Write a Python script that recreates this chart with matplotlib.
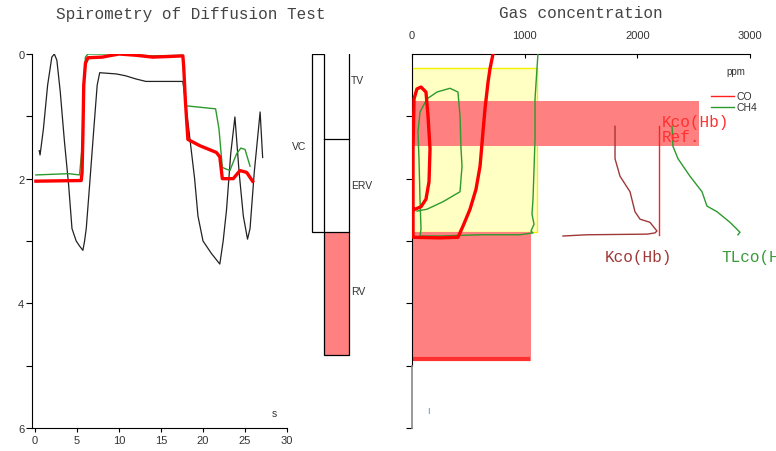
import matplotlib
matplotlib.use("Agg")
import matplotlib.pyplot as plt

# ---- spirometry traces: time (s) / volume (L, 0 at top) ----
red_t = [0.1, 5.5, 5.6, 5.7, 5.8, 6.0, 6.3, 8, 10, 12, 14, 16, 17.6, 17.7, 17.9, 18.2,
         19.6, 21.6, 22.0, 22.3, 23.6, 24.4, 25.2, 25.9]
red_v = [2.04, 2.03, 1.9, 1.3, 0.5, 0.15, 0.06, 0.05, 0.0, 0.02, 0.05, 0.04, 0.03, 0.2, 0.75, 1.37,
         1.47, 1.58, 1.65, 2.0, 2.0, 1.87, 1.9, 2.04]

green_t = [0.1, 4.0, 5.3, 5.6, 5.8, 6.0, 6.3, 10, 14, 17.6, 17.7, 17.9, 21.5, 21.9, 22.3,
           23.2, 24.0, 24.5, 25.0, 25.6]
green_v = [1.94, 1.92, 1.94, 1.5, 0.5, 0.05, 0.0, 0.0, 0.03, 0.02, 0.3, 0.83, 0.88, 1.2, 1.82,
           1.87, 1.6, 1.51, 1.53, 1.8]

black_t = [0.5, 0.6, 1.0, 1.5, 2.0, 2.3, 2.6, 3.0, 3.5, 4.0, 4.4, 4.9, 5.3, 5.7, 5.9, 6.1,
           6.5, 7.0, 7.4, 7.7, 9.7, 10.8, 12, 13.2, 17.6, 18.3, 19.0, 19.4, 20, 21, 22,
           22.4, 22.8, 23.3, 23.8, 24.3, 24.8, 25.3, 25.6, 26.1, 26.8, 27.1]
black_v = [1.55, 1.62, 1.2, 0.5, 0.05, 0.0, 0.1, 0.6, 1.4, 2.1, 2.8, 3.0, 3.08, 3.15, 3.0, 2.8,
           2.1, 1.2, 0.5, 0.3, 0.32, 0.35, 0.4, 0.44, 0.44, 1.2, 2.0, 2.6, 3.0, 3.2, 3.37,
           3.0, 2.5, 1.6, 1.01, 1.9, 2.6, 2.97, 2.8, 1.9, 0.93, 1.66]

# ---- lung volumes (L) ----
TV = 1.36
ERV = 1.50
RV = 1.97

# ---- gas concentration (ppm vs volume L) ----
ch4_ppm = [1118, 1109, 1092, 1092, 1083, 1074, 1065, 1083, 1056, 1074, 958, 604, 249, 71,
           80, 71, 62, 53, 71, 133, 222, 337, 408, 426, 435, 444, 426, 275, 133, 44]
ch4_vol = [0.0, 0.24, 0.72, 1.36, 1.85, 2.33, 2.57, 2.73, 2.84, 2.87, 2.90, 2.90, 2.92, 2.92,
           2.81, 2.33, 1.68, 1.25, 0.93, 0.72, 0.61, 0.55, 0.61, 0.99, 1.52, 1.80, 2.21, 2.37, 2.49, 2.52]

co_ppm = [719, 692, 675, 648, 630, 604, 568, 515, 453, 408, 249, 9, 9, 9, 18, 44, 80, 124,
          142, 160, 151, 124, 80, 27]
co_vol = [0.0, 0.24, 0.45, 0.88, 1.25, 1.80, 2.17, 2.49, 2.76, 2.94, 2.95, 2.94, 2.33, 1.52,
          0.72, 0.56, 0.53, 0.61, 0.99, 1.52, 2.05, 2.33, 2.45, 2.49]

kco_x = [1802, 1802, 1846, 1935, 1979, 2024, 2112, 2174, 2157, 2086, 1553, 1340]
kco_y = [1.16, 1.68, 1.96, 2.21, 2.53, 2.65, 2.70, 2.84, 2.87, 2.89, 2.90, 2.92]
kco_ref_x = 2192
kco_ref_y = [1.16, 2.90]

tlco_x = [2308, 2316, 2361, 2467, 2574, 2618, 2707, 2822, 2884, 2911, 2893]
tlco_y = [1.16, 1.48, 1.68, 1.96, 2.21, 2.44, 2.53, 2.70, 2.81, 2.86, 2.90]

# zones: (top L, bottom L, right ppm)
yellow_zone = (0.22, 2.86, 1110)
red_band = (0.75, 1.47, 2547)
red_low = (2.86, 4.93, 1060)
low_line_vol = 4.89

SANS = "Liberation Sans"
MONO = "Liberation Mono"
SALMON = "#ff8080"
GREEN = "#2c9a2c"

W, H = 776, 452
fig = plt.figure(figsize=(W / 100, H / 100), dpi=100)


def box(x0, y0, x1, y1):
    return [x0 / W, 1 - y1 / H, (x1 - x0) / W, (y1 - y0) / H]


# ---------------- left: spirometry ----------------
ax1 = fig.add_axes(box(32, 55, 287, 429))
ax1.plot(black_t, black_v, color="#222222", lw=0.9, zorder=2)
ax1.plot(green_t, green_v, color=GREEN, lw=1.0, zorder=3)
ax1.plot(red_t, red_v, color="#ff0000", lw=2.4, zorder=4)
ax1.set_xlim(-0.36, 30)
ax1.set_ylim(6, 0)
ax1.set_xticks(range(0, 31, 5))
ax1.set_yticks([0, 2, 4, 6])
ax1.set_yticks([1, 3, 5], minor=True)
for s in ["top", "right"]:
    ax1.spines[s].set_visible(False)
ax1.tick_params(axis="y", which="both", length=4, width=0.8, pad=1.5, labelsize=8,
                labelcolor="#333333")
ax1.tick_params(axis="x", length=3, width=0.8, pad=2, labelsize=8, labelcolor="#333333")
for lab in ax1.get_xticklabels() + ax1.get_yticklabels():
    lab.set_family(SANS)
ax1.text(28.2, 5.8, "s", fontsize=7.5, family=SANS, color="#333333")
fig.text(191 / W, 1 - 14 / H, "Spirometry of Diffusion Test", ha="center", va="center",
         family=MONO, fontsize=11.5, color="#444444")

# ---------------- middle: lung volumes ----------------
axm = fig.add_axes(box(290, 55, 400, 429))
axm.set_xlim(0, 110)
axm.set_ylim(6, 0)
axm.axis("off")
axm.bar(28, TV + ERV, width=12, bottom=0, color="white", edgecolor="black", lw=0.9)
axm.bar(46.5, RV, width=25, bottom=TV + ERV, color=SALMON, edgecolor="black", lw=0.9)
axm.plot([34, 59], [TV, TV], color="black", lw=0.9)
axm.plot([59, 59], [0, TV + ERV], color="black", lw=0.9)
axm.text(2, (TV + ERV) / 2 + 0.05, "VC", fontsize=7.5, family=SANS, color="#333333", va="center")
axm.text(61, 0.42, "TV", fontsize=7.5, family=SANS, color="#333333", va="center")
axm.text(61, 2.1, "ERV", fontsize=7.5, family=SANS, color="#333333", va="center")
axm.text(61, 3.8, "RV", fontsize=7.5, family=SANS, color="#333333", va="center")

# ---------------- right: gas concentration ----------------
ax2 = fig.add_axes(box(412, 55, 750, 429))
ax2.set_xlim(0, 3000)
ax2.set_ylim(6, 0)
ax2.barh(yellow_zone[0], yellow_zone[2], height=yellow_zone[1] - yellow_zone[0], left=0,
         align="edge", color="#ffffc4", edgecolor="#f2f200", lw=1, zorder=1)
ax2.barh(red_low[0], red_low[2], height=red_low[1] - red_low[0], left=0, align="edge",
         color=SALMON, lw=0, zorder=1)
ax2.plot([0, red_low[2] - 30], [low_line_vol, low_line_vol], color="#ff3030", lw=3, zorder=2)
ax2.barh(red_band[0], red_band[2], height=red_band[1] - red_band[0], left=0, align="edge",
         color=SALMON, lw=0, zorder=2)

ax2.plot(ch4_ppm, ch4_vol, color=GREEN, lw=1.0, zorder=4)
ax2.plot(co_ppm, co_vol, color="#ff0000", lw=2.4, zorder=5)
ax2.plot(kco_x, kco_y, color="#a03838", lw=1.0, zorder=4)
ax2.plot([kco_ref_x, kco_ref_x], kco_ref_y, color="#ff2020", lw=1.0, zorder=4)
ax2.plot(tlco_x, tlco_y, color=GREEN, lw=1.0, zorder=4)

ax2.text(2215, 1.2, "Kco(Hb)\nRef.", family=MONO, fontsize=11.5, color="#ff3030",
         linespacing=1.0, va="center", zorder=6)
ax2.text(1710, 3.25, "Kco(Hb)", family=MONO, fontsize=11.5, color="#a03838", va="center")
ax2.text(2750, 3.25, "TLco(Hb)", family=MONO, fontsize=11.5, color="#3a9a3a", va="center",
         clip_on=False)

ax2.xaxis.tick_top()
ax2.set_xticks([0, 1000, 2000, 3000])
ax2.tick_params(axis="x", direction="in", length=3, width=0.8, pad=10, labelsize=8,
                labelcolor="#333333")
ax2.set_yticks([1, 2, 3, 4, 5, 6])
ax2.set_yticklabels([])
ax2.tick_params(axis="y", length=4, width=0.8)
for lab in ax2.get_xticklabels():
    lab.set_family(SANS)
for s in ["bottom", "right"]:
    ax2.spines[s].set_visible(False)
ax2.spines["left"].set_bounds(0, 5)
ax2.plot([0, 0], [5, 6], color="#888888", lw=1.2, clip_on=False, zorder=6)

# legend
ax2.text(2870, 0.27, "ppm", family=SANS, fontsize=7, color="#333333", ha="center", va="center")
ax2.plot([2655, 2860], [0.67, 0.67], color="#ff2020", lw=1.0)
ax2.plot([2655, 2860], [0.85, 0.85], color=GREEN, lw=1.0)
ax2.text(2880, 0.67, "CO", family=SANS, fontsize=7.5, color="#333333", va="center")
ax2.text(2880, 0.85, "CH4", family=SANS, fontsize=7.5, color="#333333", va="center")
ax2.text(130, 5.72, "I", family=SANS, fontsize=6.5, color="#3a8ee6", va="center")

fig.text(581 / W, 1 - 14 / H, "Gas concentration", ha="center", va="center",
         family=MONO, fontsize=11.5, color="#444444")

fig.savefig("out.png", dpi=100)
